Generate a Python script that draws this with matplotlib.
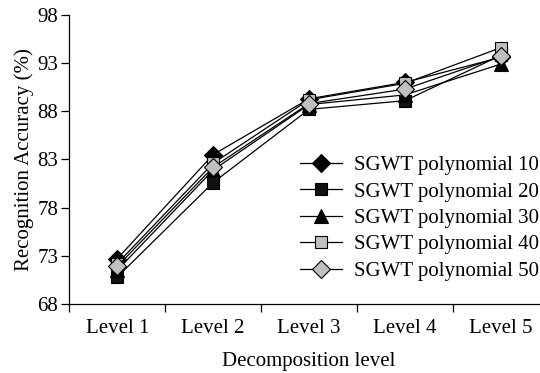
import matplotlib
matplotlib.use("Agg")
import matplotlib.pyplot as plt

plt.rcParams["font.family"] = ["Liberation Serif", "DejaVu Serif"]

levels = ["Level 1", "Level 2", "Level 3", "Level 4", "Level 5"]
poly_10 = [72.7, 83.5, 89.3, 91.0, 93.6]
poly_20 = [70.8, 80.6, 88.2, 89.1, 93.8]
poly_30 = [71.5, 81.9, 88.7, 89.7, 92.9]
poly_40 = [72.2, 82.6, 89.2, 90.9, 94.6]
poly_50 = [71.9, 82.2, 88.8, 90.3, 93.7]
labels = ["SGWT polynomial 10", "SGWT polynomial 20", "SGWT polynomial 30",
          "SGWT polynomial 40", "SGWT polynomial 50"]
y_ticks = [68, 73, 78, 83, 88, 93, 98]


def main():
    fig = plt.figure(figsize=(5.4, 3.73), dpi=100)
    ax = fig.add_axes([0.1283, 0.185, 0.888, 0.775])

    styles = [
        dict(marker="D", markersize=9.5, markerfacecolor="black"),
        dict(marker="s", markersize=9, markerfacecolor="#111111"),
        dict(marker="^", markersize=10, markerfacecolor="black"),
        dict(marker="s", markersize=9, markerfacecolor="#c0c0c0"),
        dict(marker="D", markersize=9.5, markerfacecolor="#c0c0c0"),
    ]
    series = [poly_10, poly_20, poly_30, poly_40, poly_50]
    x = range(len(levels))
    for vals, lab, st in zip(series, labels, styles):
        ax.plot(x, vals, color="black", linewidth=0.9, markeredgecolor="black",
                markeredgewidth=0.8, label=lab, **st)

    ax.set_xlim(-0.5, len(levels) - 0.5)
    ax.set_ylim(68, 98)
    ax.set_yticks(y_ticks)
    ax.set_xticks([i - 0.5 for i in range(len(levels))])
    ax.set_xticklabels([])
    ax.set_xticks(list(x), minor=True)
    ax.set_xticklabels(levels, minor=True)
    ax.tick_params(axis="x", which="minor", length=0, labelsize=15, pad=11)
    ax.tick_params(axis="x", which="major", direction="out", length=6, width=0.9)
    ax.tick_params(axis="y", direction="out", length=6, width=0.9, labelsize=15, pad=2)

    for s in ["top", "right"]:
        ax.spines[s].set_visible(False)
    for s in ["left", "bottom"]:
        ax.spines[s].set_linewidth(0.9)

    ax.set_ylabel("Recognition Accuracy (%)", fontsize=15, labelpad=2)
    ax.set_xlabel("Decomposition level", fontsize=15, labelpad=10)

    ax.legend(loc="upper left", bbox_to_anchor=(0.556, 0.583), bbox_transform=fig.transFigure,
              frameon=False, fontsize=15, handlelength=2.0, handletextpad=0.6,
              labelspacing=0.33, borderaxespad=0, borderpad=0)

    fig.savefig("out.png", dpi=100)


if __name__ == "__main__":
    main()
